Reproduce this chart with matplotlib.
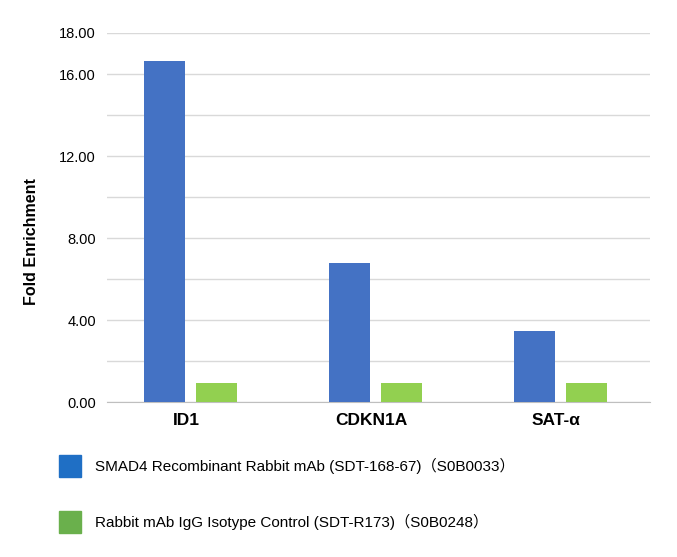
import matplotlib
matplotlib.use("Agg")
import matplotlib.pyplot as plt
import numpy as np

categories = ["ID1", "CDKN1A", "SAT-α"]
smad4 = [16.65, 6.8, 3.45]
igg = [0.95, 0.95, 0.95]
yticks = [0, 4, 8, 12, 16, 18]
series_names = ["SMAD4 Recombinant Rabbit mAb (SDT-168-67)（S0B0033）",
                "Rabbit mAb IgG Isotype Control (SDT-R173)（S0B0248）"]
colors = ["#4472C4", "#92D050"]
legend_colors = ["#1F6FC5", "#6AB04C"]

plt.rcParams['font.family'] = ['Liberation Sans', 'Noto Sans CJK SC', 'DejaVu Sans']
fig = plt.figure(figsize=(6.77, 5.57), dpi=100)
ax = fig.add_axes([107/677, 1-402/557, 543/677, 369/557])
x = np.arange(len(categories))
ax.bar(x - 0.115, smad4, width=0.22, color=colors[0], zorder=3)
ax.bar(x + 0.165, igg, width=0.22, color=colors[1], zorder=3)
ax.set_xlim(-0.427, 2.508)
ax.set_ylim(0, 18)
ax.set_yticks(np.arange(0, 19, 2), minor=False)
ax.set_yticklabels([f"{v:.2f}" if v in yticks else "" for v in np.arange(0, 19, 2)], fontsize=10.5)
ax.grid(axis='y', color='#D9D9D9', linewidth=1, zorder=0)
ax.tick_params(axis='y', length=0, pad=8)
ax.tick_params(axis='x', length=0, pad=8)
ax.set_xticks(x)
ax.set_xticklabels(categories, fontsize=12.5, fontweight='bold')
for s in ['top', 'right', 'left']:
    ax.spines[s].set_visible(False)
ax.spines['bottom'].set_color('#BFBFBF')
fig.text(32/677, 1-242/557, "Fold Enrichment", rotation=90, fontsize=11.5, fontweight='bold', ha='center', va='center')

for i, (name, c) in enumerate(zip(series_names, legend_colors)):
    yc = 466 if i == 0 else 522
    fig.patches.append(plt.Rectangle((59/677, 1-(yc+11)/557), 22/677, 22/557, color=c, transform=fig.transFigure))
    fig.text(95/677, 1-yc/557, name, fontsize=11, va='center', ha='left')

fig.savefig("out.png", dpi=100)
